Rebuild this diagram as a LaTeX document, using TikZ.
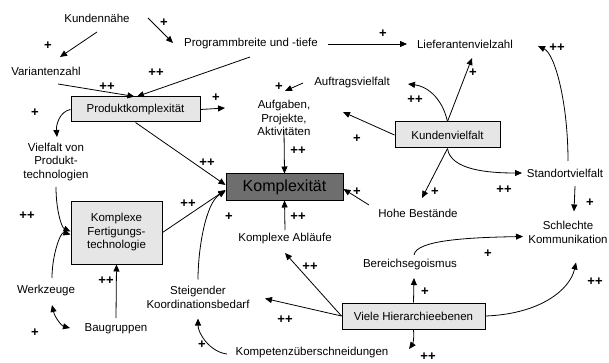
\documentclass[tikz,border=0pt]{standalone}
\usepackage{fontspec}
\setmainfont{Liberation Sans}
\usetikzlibrary{arrows.meta,calc}
\definecolor{boxgray}{HTML}{E6E6E6}
\definecolor{darkbox}{HTML}{6E6E6E}
\begin{document}
\begin{tikzpicture}[x=1pt,y=-1pt,
  txt/.style={inner sep=0pt,align=center,font=\fontsize{11.5}{13.5}\selectfont},
  lbox/.style={draw=black,line width=1pt,fill=boxgray,inner sep=0pt,align=center,
    font=\fontsize{11.5}{13.5}\selectfont},
  pl/.style={inner sep=0pt,font=\fontsize{13}{13}\selectfont\bfseries},
  arr/.style={-{Triangle[length=7pt,width=6pt]},line width=0.8pt},
  darr/.style={{Triangle[length=7pt,width=6pt]}-{Triangle[length=7pt,width=6pt]},line width=0.8pt},
]
\useasboundingbox (0,0) rectangle (609,363);

% boxes
\node[lbox,minimum width=129pt,minimum height=25pt] (pk) at (135.5,109.5) {Produktkomplexität};
\node[lbox,minimum width=105pt,minimum height=26pt] (kv) at (447.5,135) {Kundenvielfalt};
\node[lbox,fill=darkbox,minimum width=117pt,minimum height=26pt,font=\fontsize{16}{16}\selectfont] (kx) at (284.5,187) {Komplexität};
\node[lbox,minimum width=91pt,minimum height=63pt] (kft) at (116.5,232.5) {Komplexe\\Fertigungs-\\technologie};
\node[lbox,minimum width=143pt,minimum height=26pt] (vh) at (413.5,316) {Viele Hierarchieebenen};

% text nodes
\node[txt] (kn) at (97,18) {Kundennähe};
\node[txt] (pb) at (251,44) {Programmbreite und -tiefe};
\node[txt] (lv) at (465,44) {Lieferantenvielzahl};
\node[txt] (vz) at (46,71) {Variantenzahl};
\node[txt] (av) at (352,83) {Auftragsvielfalt};
\node[txt] (apa) at (284,118) {Aufgaben,\\Projekte,\\Aktivitäten};
\node[txt] (vpt) at (56,162) {Vielfalt von\\Produkt-\\technologien};
\node[txt] (so) at (565,173) {Standortvielfalt};
\node[txt] (hb) at (418,213) {Hohe Bestände};
\node[txt] (sk) at (568,232.5) {Schlechte\\Kommunikation};
\node[txt] (ka) at (285,239) {Komplexe Abläufe};
\node[txt] (be) at (410,265) {Bereichsegoismus};
\node[txt] (wz) at (46,291) {Werkzeuge};
\node[txt] (skb) at (198,297.5) {Steigender\\Koordinationsbedarf};
\node[txt] (bg) at (116,329) {Baugruppen};
\node[txt] (ku) at (312,353) {Kompetenzüberschneidungen};

% connectors
\draw[arr] ($(kn.center)+(0,14)$) -- ($(vz.center)+(14,-14)$);
\draw[arr] ($(kn.center)+(51,0)$) -- ($(pb.center)+(-78,-1)$);
\draw[arr] ($(pb.center)+(-1,13)$) -- ($(pk.north)+(1.5,0)$);
\draw[arr] ($(vz.center)+(12,13)$) -- ($(pk.north)+(-1,0)$);
\draw[arr] ($(pb.center)+(77,0)$) -- ($(lv.center)+(-58,0)$);
\draw[arr] (pk.east) -- ($(apa.center)+(-59,-10)$);
\draw[arr] ($(av.center)+(-49,0)$) -- ($(apa.center)+(1,-27)$);
\draw[arr] (kv.west) -- ($(apa.center)+(59,-6)$);
\draw[arr] ($(apa.center)+(0,12)$) -- (kx.north);
\draw[arr] (pk.south) -- ($(kx.west)+(0,-2)$);
\draw[arr] (kft.east) -- ($(kx.west)+(0,3)$);
\draw[arr] ($(skb.center)+(0,-18)$) .. controls ($(skb.center)+(0,-48)$) and ($(kx.west)+(-20,16)$) .. ($(kx.west)+(0,4)$);
\draw[arr] ($(ka.center)+(0,-9)$) -- (kx.south);
\draw[arr] ($(hb.center)+(-49,-8)$) -- ($(kx.east)+(0,2)$);
\draw[arr] (kv.north) -- ($(lv.center)+(7,14)$);
\draw[arr] (kv.north) .. controls ($(kv.north)+(-6,-26)$) and ($(av.center)+(73,3)$) .. ($(av.center)+(56,1)$);
\draw[arr] ($(so.center)+(3,-12)$) .. controls ($(so.center)+(3,-70)$) and ($(lv.center)+(90,10)$) .. ($(lv.center)+(73,2)$);
\draw[arr] (kv.south) .. controls ($(kv.south)+(3,22)$) and ($(so.center)+(-75,0)$) .. ($(so.center)+(-43,0)$);
\draw[arr] (kv.south) -- ($(hb.center)+(4,-15)$);
\draw[arr] ($(so.center)+(10,13)$) -- ($(sk.center)+(6,-21)$);
\draw[arr] ($(be.center)+(4,-10)$) .. controls ($(be.center)+(6,-25)$) and ($(sk.center)+(-99,5)$) .. ($(sk.center)+(-45,4)$);
\draw[arr] (vh.east) .. controls ($(vh.east)+(55,-2)$) and ($(sk.center)+(2,57)$) .. ($(sk.center)+(8,30)$);
\draw[arr] (vh.north) -- ($(be.center)+(4,13)$);
\draw[arr] (vh.west) -- ($(ka.center)+(0,14)$);
\draw[arr] (vh.west) -- ($(skb.center)+(67,1)$);
\draw[arr] (vh.south) .. controls ($(vh.south)+(1,12)$) and ($(ku.center)+(100,-8)$) .. ($(ku.center)+(97,-4)$);
\draw[arr] ($(ku.center)+(-85,1)$) .. controls ($(ku.center)+(-102,-1)$) and ($(skb.center)+(0,36)$) .. ($(skb.center)+(0,21)$);
\draw[arr] (pk.west) .. controls ($(pk.west)+(-11,2)$) and ($(vpt.center)+(0,-37)$) .. ($(vpt.center)+(1,-25)$);
\draw[arr] ($(vpt.center)+(0,25)$) .. controls ($(vpt.center)+(0,48)$) and ($(kft.west)+(-9,-5)$) .. ($(kft.west)+(0,-1)$);
\draw[arr] ($(wz.center)+(6,-13)$) .. controls ($(wz.center)+(6,-36)$) and ($(kft.west)+(-10,-1)$) .. ($(kft.west)+(0,2)$);
\draw[darr] ($(wz.center)+(6,14)$) .. controls ($(wz.center)+(9,27)$) and ($(bg.center)+(-54,-3)$) .. ($(bg.center)+(-46,-1)$);
\draw[arr] ($(bg.center)+(0,-11)$) -- (kft.south);

% labels
\node[pl] at (48,46) {+};
\node[pl] at (164,23) {+};
\node[pl] at (156,73) {++};
\node[pl] at (107,87) {++};
\node[pl] at (383,34) {+};
\node[pl] at (216,98) {+};
\node[pl] at (279,87) {+};
\node[pl] at (357,139) {+};
\node[pl] at (298,151) {++};
\node[pl] at (207,163) {++};
\node[pl] at (188,204) {++};
\node[pl] at (229,217) {+};
\node[pl] at (298,217) {++};
\node[pl] at (357,192) {+};
\node[pl] at (473,73) {+};
\node[pl] at (415,100) {++};
\node[pl] at (557,48) {++};
\node[pl] at (504,190) {++};
\node[pl] at (435,192) {+};
\node[pl] at (590,203) {+};
\node[pl] at (488,254) {+};
\node[pl] at (595,282) {++};
\node[pl] at (425,292) {+};
\node[pl] at (310,267) {++};
\node[pl] at (285,320) {++};
\node[pl] at (428,357) {++};
\node[pl] at (202,345) {+};
\node[pl] at (35,113) {+};
\node[pl] at (27,216) {++};
\node[pl] at (35,333) {+};
\node[pl] at (106,281) {++};
\end{tikzpicture}
\end{document}
